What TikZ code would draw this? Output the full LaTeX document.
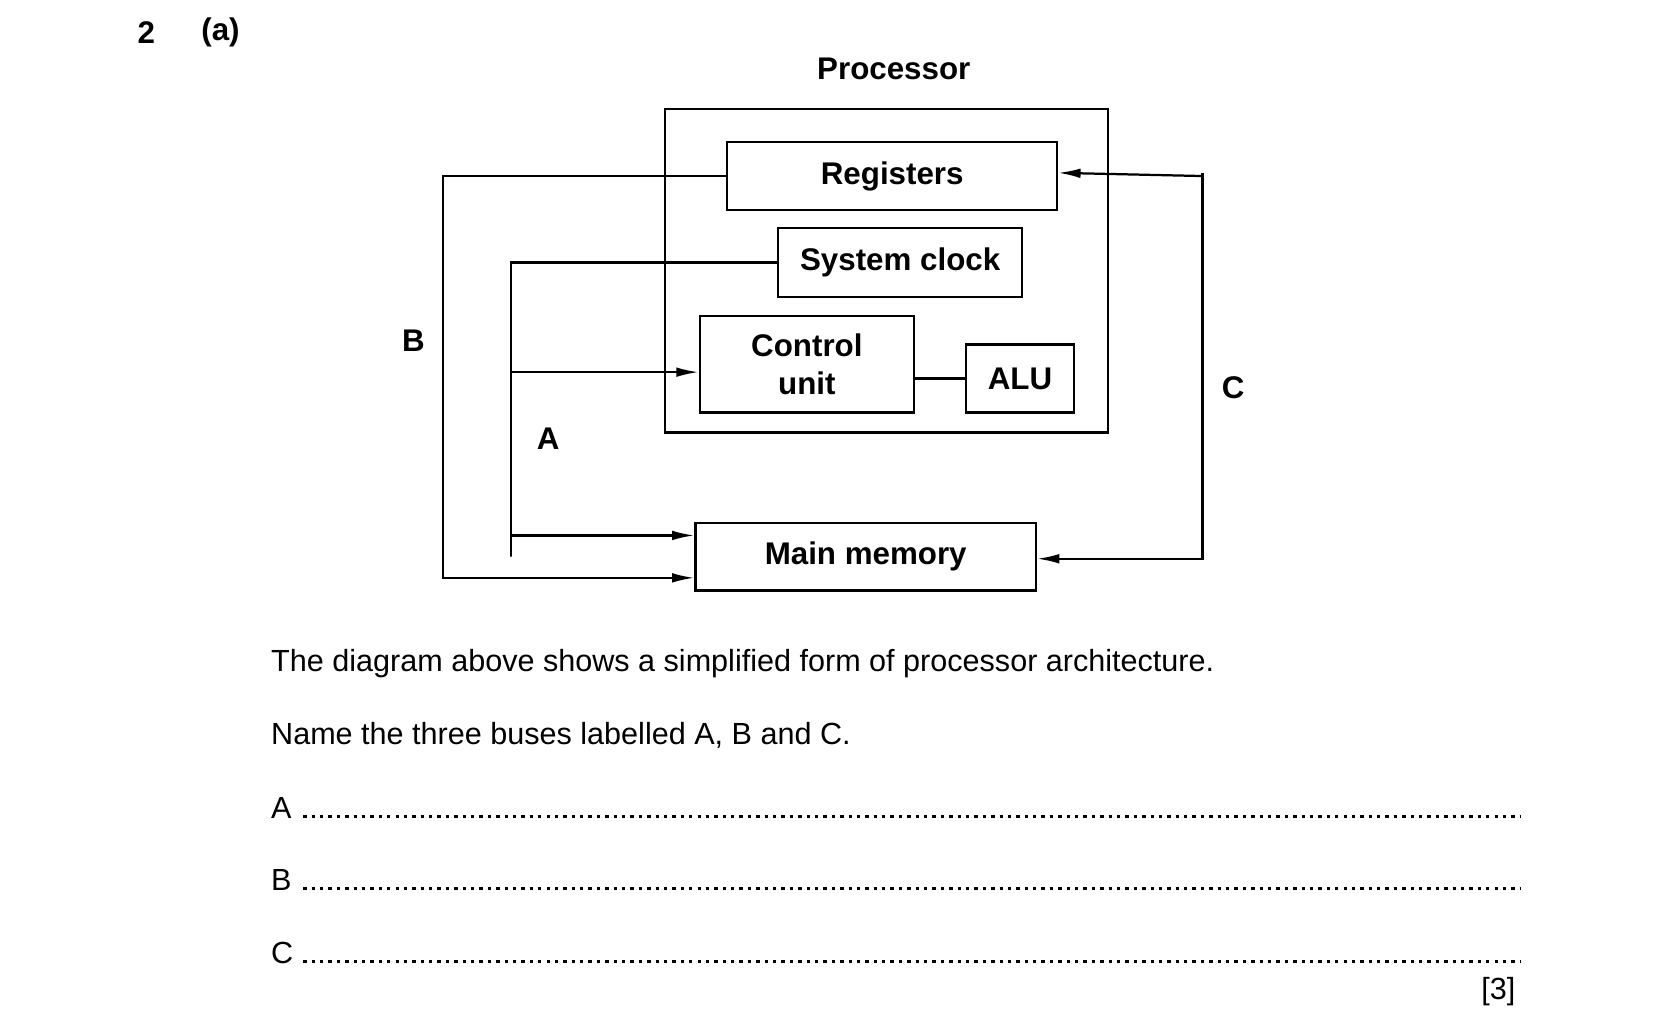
\documentclass[tikz,border=0pt]{standalone}
\usepackage{fontspec}
\setmainfont{Liberation Sans}
\usetikzlibrary{calc,arrows.meta,positioning}
\begin{document}
\begin{tikzpicture}[x=0.01cm,y=-0.01cm,line width=0.6pt]
%
% Styles
%
\tikzset{every node/.style={font=\fontsize{8.2pt}{10pt}\selectfont}};%
\tikzset{bloc/.style={draw, line width=0.6pt, font=\fontsize{8.4pt}{10pt}\selectfont\bfseries, align=center, inner sep=0pt}};%
\tikzset{bus/.style={-{Latex[length=6pt,width=2.6pt]}}};%
\tikzset{pointilles/.style={line width=0.9pt, dash pattern=on 0.9pt off 1.35pt}};%

\useasboundingbox (0,0) rectangle (1560,963);%

%
% Processor
%
\node[bloc, minimum width=418*0.01cm, minimum height=305*0.01cm] (proc) at (836,255.5) {};%
\node[font=\fontsize{8.4pt}{10pt}\selectfont\bfseries] (titre) at (843,65) {Processor};%
\node[bloc, minimum width=311*0.01cm, minimum height=64*0.01cm] (reg) at (841.5,166) {Registers};%
\node[bloc, minimum width=230*0.01cm, minimum height=65*0.01cm] (clk) at (849,247.5) {System clock};%
\node[bloc, minimum width=202*0.01cm, minimum height=91*0.01cm] (cu) at (761,343.5) {Control\\unit};%
\node[bloc, minimum width=102*0.01cm, minimum height=64*0.01cm] (alu) at (962,357) {ALU};%
\node[bloc, minimum width=321*0.01cm, minimum height=64*0.01cm] (mem) at (816.5,525) {Main memory};%

%
% Buses
%
\coordinate (xb) at (418,0);%
\coordinate (xa) at (482,0);%
\coordinate (xc) at (1133,0);%
\draw (cu.east |- alu.west) -- (alu.west);%
\draw[bus] (reg.west) -| (xb |- mem.west) -- ++(0,20) coordinate (b) -- ($(mem.west)+(0,20)$);%
\draw[bus] (clk.west) -| (xa |- mem.west) -- ++(0,-20) -- ($(mem.west)+(0,-20)$);%
\draw[bus] (xa |- 0,351) -- (cu.west |- 0,351);%
\draw[bus] (xc |- reg.east) -- ($(reg.east)+(0,-3)$);%
\draw[bus] ($(reg.east)+(136,-3)$) |- ($(mem.east)+(0,2)$);%

\node[font=\fontsize{8.4pt}{10pt}\selectfont\bfseries] (la) at (517,414) {A};%
\node[font=\fontsize{8.4pt}{10pt}\selectfont\bfseries] (lb) at (390,321) {B};%
\node[font=\fontsize{8.4pt}{10pt}\selectfont\bfseries] (lc) at (1163,366) {C};%

%
% Question text
%
\node[font=\fontsize{8.4pt}{10pt}\selectfont\bfseries] (num) at (138,31) {2};%
\node[font=\fontsize{8.4pt}{10pt}\selectfont\bfseries] (part) at (208,31) {(a)};%
\node[anchor=west] (t1) at (243,626) {The diagram above shows a simplified form of processor architecture.};%
\node[anchor=west] (t2) at (243,694) {Name the three buses labelled A, B and C.};%
\foreach \lettre/\y in {A/762, B/830, C/899}{%
    \node[anchor=west] (r\lettre) at (243,\y) {\lettre};%
    \draw[pointilles] (286,\y+8) -- (1434,\y+8);%
}
\node[anchor=east] (marks) at (1442,935) {[3]};%
\end{tikzpicture}
\end{document}
